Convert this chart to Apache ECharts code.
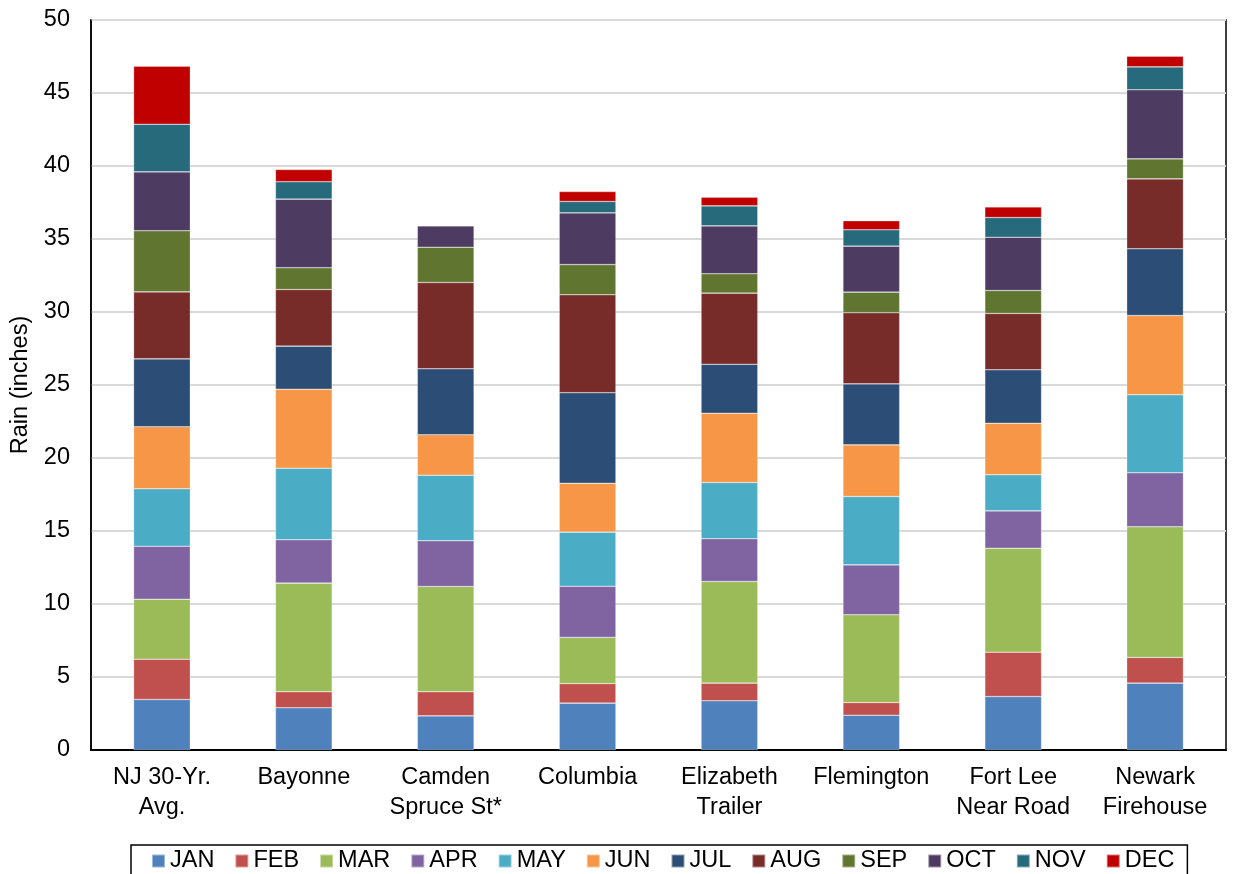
<!DOCTYPE html>
<html>
<head>
<meta charset="utf-8">
<script src="https://cdn.jsdelivr.net/npm/echarts@6/dist/echarts.min.js"></script>
<style>
html,body{margin:0;padding:0;background:#fff;}
#chart{width:1235px;height:874px;}
</style>
</head>
<body>
<div id="chart"></div>
<script>
const categories = ["NJ 30-Yr.\nAvg.", "Bayonne", "Camden\nSpruce St*", "Columbia", "Elizabeth\nTrailer", "Flemington", "Fort Lee\nNear Road", "Newark\nFirehouse"];
const months = ["JAN","FEB","MAR","APR","MAY","JUN","JUL","AUG","SEP","OCT","NOV","DEC"];
const colors = ["#4F81BD","#C0504D","#9BBB59","#8064A2","#4BACC6","#F79646","#2C4D75","#772C2A","#5F7530","#4D3B62","#276A7C","#C00000"];

const JAN = [3.46, 2.89, 2.34, 3.21, 3.37, 2.38, 3.66, 4.58];
const FEB = [2.76, 1.10, 1.65, 1.34, 1.21, 0.87, 3.04, 1.76];
const MAR = [4.11, 7.44, 7.21, 3.16, 6.96, 6.01, 7.12, 8.95];
const APR = [3.63, 2.97, 3.13, 3.51, 2.93, 3.42, 2.56, 3.70];
const MAY = [3.93, 4.90, 4.49, 3.70, 3.85, 4.68, 2.47, 5.34];
const JUN = [4.25, 5.41, 2.77, 3.35, 4.75, 3.54, 3.53, 5.43];
const JUL = [4.65, 2.95, 4.52, 6.20, 3.35, 4.18, 3.66, 4.57];
const AUG = [4.59, 3.88, 5.91, 6.71, 4.87, 4.87, 3.86, 4.79];
const SEP = [4.18, 1.49, 2.42, 2.07, 1.33, 1.41, 1.57, 1.37];
const OCT = [4.04, 4.70, 1.46, 3.54, 3.28, 3.15, 3.65, 4.73];
const NOV = [3.26, 1.19, null, 0.78, 1.37, 1.12, 1.35, 1.57];
const DEC = [3.98, 0.84, null, 0.68, 0.59, 0.62, 0.73, 0.73];

const seriesData = [JAN, FEB, MAR, APR, MAY, JUN, JUL, AUG, SEP, OCT, NOV, DEC];
const yTicks = [0, 5, 10, 15, 20, 25, 30, 35, 40, 45, 50];

const FONT = "Liberation Sans, Arial, sans-serif";
const FS = 23.5;

const chart = echarts.init(document.getElementById('chart'), null, {renderer: 'canvas'});
chart.setOption({
  animation: false,
  backgroundColor: '#ffffff',
  color: colors,
  grid: {
    left: 91, right: 9, top: 20, bottom: 124,
    show: true, borderColor: '#000', borderWidth: 1.5, backgroundColor: 'transparent'
  },
  legend: {
    data: months,
    left: 131,
    top: 845,
    itemWidth: 13,
    itemHeight: 13,
    itemGap: 20,
    icon: 'rect',
    borderColor: '#000',
    borderWidth: 1.5,
    padding: [4, 13, 14, 20],
    textStyle: {fontFamily: FONT, fontSize: FS, color: '#000'}
  },
  xAxis: {
    type: 'category',
    data: categories,
    axisLine: {show: true, lineStyle: {color: '#000', width: 2}},
    axisTick: {show: false},
    axisLabel: {fontFamily: FONT, fontSize: FS, color: '#000', margin: 13, lineHeight: 30, interval: 0}
  },
  yAxis: {
    type: 'value',
    min: yTicks[0], max: yTicks[yTicks.length - 1], interval: 5,
    name: 'Rain (inches)',
    nameLocation: 'middle',
    nameGap: 53,
    nameTextStyle: {fontFamily: FONT, fontSize: FS, color: '#000'},
    axisLine: {show: true, lineStyle: {color: '#000', width: 1.5}},
    axisTick: {show: false},
    axisLabel: {fontFamily: FONT, fontSize: FS, color: '#000', margin: 21},
    splitLine: {show: true, lineStyle: {color: '#D9D9D9', width: 2}}
  },
  series: months.map((m, i) => ({
    name: m,
    type: 'bar',
    stack: 'rain',
    barWidth: '40%',
    data: seriesData[i],
    itemStyle: {color: colors[i], borderColor: 'rgba(255,255,255,0.45)', borderWidth: 0.6}
  }))
});
</script>
</body>
</html>
